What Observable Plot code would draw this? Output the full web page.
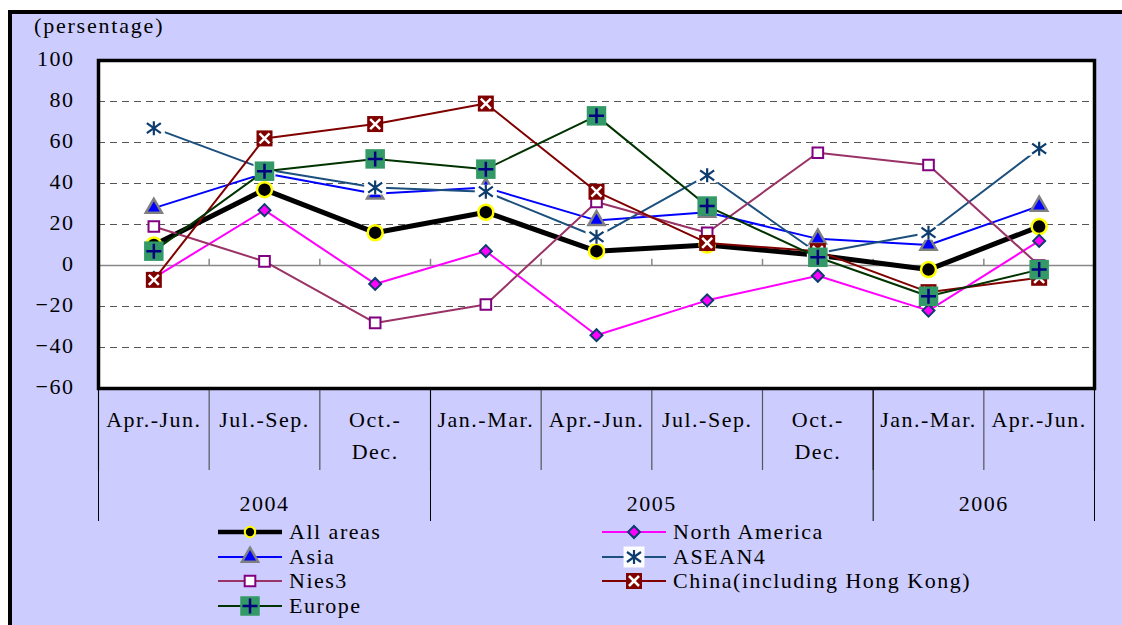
<!DOCTYPE html>
<html><head><meta charset="utf-8">
<script src="https://cdn.jsdelivr.net/npm/d3@7"></script>
<script src="https://cdn.jsdelivr.net/npm/@observablehq/plot@0.6"></script>
<style>
html,body{margin:0;padding:0;background:#fff;width:1122px;height:625px;overflow:hidden;font-family:'Liberation Serif',serif;}
#bg{position:absolute;left:8px;top:10px;right:0;bottom:0;background:#CCCCFF;border-left:4px solid #000;border-top:4px solid #000;}
#chart{position:absolute;left:0;top:0;}
#chart svg, #chart svg text{font-family:'Liberation Serif',serif !important;letter-spacing:1.5px;}
#ytitle{position:absolute;left:34px;top:15px;font-family:'Liberation Serif',serif;font-size:22px;line-height:22px;letter-spacing:1.8px;color:#000;}
.leg{position:absolute;display:flex;align-items:center;font-family:'Liberation Serif',serif;font-size:22px;line-height:24px;height:24px;letter-spacing:1.5px;color:#000;white-space:nowrap;}
.leg svg{display:block;margin-right:7px;}
</style></head><body>
<div id="bg"></div>
<div id="chart"></div>
<div id="ytitle">(persentage)</div>
<div id="legend"></div>
<script>
// ---- data ----
const categories = ["Apr.-Jun.","Jul.-Sep.","Oct.-\nDec.","Jan.-Mar.","Apr.-Jun.","Jul.-Sep.","Oct.-\nDec.","Jan.-Mar.","Apr.-Jun."];
const years = ["2004","2005","2006"];
const yearSpans = [[0,2],[3,6],[7,8]];
const seriesNames = ["All areas","North America","Asia","ASEAN4","Nies3","China(including Hong Kong)","Europe"];
const allAreas     = [10, 37, 16, 26,   7,  10,  5,  -2, 19];
const northAmerica = [-6, 27, -9,  7, -34, -17, -5, -22, 12];
const asia         = [28, 45, 35, 38,  22,  26, 13,  10, 29];
const asean4       = [67, 47, 38, 36,  14,  44,  6,  16, 57];
const nies3        = [19,  2, -28, -19, 31, 16, 55,  49,  0];
const china        = [-7, 62, 69, 79,  36,  11,  7, -13, -6];
const europe       = [ 7, 46, 52, 47,  73,  29,  4, -15, -2];
const seriesValues = [allAreas, northAmerica, asia, asean4, nies3, china, europe];
const yTicks = [-60,-40,-20,0,20,40,60,80,100];
const gridValues = [-40,-20,20,40,60,80];

// ---- styles ----
const FONT = "'Liberation Serif', serif";
const asteriskSym = {draw(ctx, size){const k=Math.sqrt(size)/14;
  ctx.moveTo(0,-7*k);ctx.lineTo(0,7*k);
  ctx.moveTo(-7*k,-5*k);ctx.lineTo(7*k,5*k);
  ctx.moveTo(-7*k,5*k);ctx.lineTo(7*k,-5*k);}};
const haloSym = {draw(ctx, size){const k=Math.sqrt(size)/22; ctx.rect(-11*k,-7*k,22*k,14*k);}};
const haloLegendSym = {draw(ctx, size){const s=Math.sqrt(size); ctx.rect(-s/2,-s/2,s,s);}};
const styles = [
  {color:"#000000", width:5, legendWidth:4.5, markers:[{symbol:"circle", r:7.5, fill:"#000", stroke:"#FFFF00", sw:2.5}], legendMarkers:[{symbol:"circle", r:5.2, fill:"#000", stroke:"#FFFF00", sw:2}]},
  {color:"#FF00FF", width:2, markers:[{symbol:"diamond2", r:5.4, fill:"#FF00FF", stroke:"#0D3C6E", sw:2}]},
  {color:"#0000FF", width:2, markers:[{symbol:"triangle", r:6, fill:"#0000FF", stroke:"#808080", sw:2.5}]},
  {color:"#1B4F7E", width:2, markers:[{symbol:haloSym, r:12.41, fill:"#fff", stroke:"none", sw:0},{symbol:asteriskSym, r:7.9, fill:"none", stroke:"#0D3C6E", sw:2.2}],
     legendMarkers:[{symbol:haloLegendSym, r:11.8, fill:"#fff", stroke:"none", sw:0},{symbol:asteriskSym, r:7.9, fill:"none", stroke:"#0D3C6E", sw:2.2}]},
  {color:"#993366", width:2, markers:[{symbol:"square", r:6, fill:"#fff", stroke:"#800080", sw:2}]},
  {color:"#800000", width:2, markers:[{symbol:"square", r:9.03, fill:"#800000", stroke:"none", sw:0},{symbol:"times", r:4.62, fill:"none", stroke:"#fff", sw:2.5}]},
  {color:"#003300", width:2, markers:[{symbol:"square", r:11, fill:"#339966", stroke:"none", sw:0},{symbol:"plus", r:4.9, fill:"none", stroke:"#000080", sw:2.5}]}
];

// ---- derived ----
const rows = seriesNames.flatMap((name, s) => seriesValues[s].map((v, i) => ({series: name, s, i, v})));
const catIdx = d3.range(categories.length);
const bounds = d3.range(categories.length + 1).map(k => k - 0.5);
const innerBounds = bounds.slice(1, -1);
const yearBounds = [yearSpans[0][0] - 0.5, ...yearSpans.map(sp => sp[1] + 0.5)];
const yearCenters = yearSpans.map(sp => (sp[0] + sp[1]) / 2);

const marks = [
  Plot.frame({fill: "white"}),
  Plot.ruleY(gridValues, {stroke: "#555", strokeWidth: 1, strokeDasharray: "7,5"}),
  Plot.ruleY([0], {stroke: "#888", strokeWidth: 1.6}),
  Plot.ruleX(innerBounds, {x: d => d, y1: 0, y2: 3, stroke: "#888", strokeWidth: 1.5}),
  Plot.axisY(yTicks, {tickSize: 0, tickPadding: 24, fontSize: 22, dy: -2, fontFamily: FONT, label: null}),
  Plot.axisX(catIdx, {tickSize: 0, tickPadding: 16, fontSize: 22, fontFamily: FONT, lineHeight: 1.45, tickFormat: i => categories[i], label: null}),
  Plot.axisX(bounds, {tickSize: 82, tickFormat: () => "", stroke: "#555", strokeWidth: 1.2, label: null}),
  Plot.axisX(yearBounds, {tickSize: 133, tickFormat: () => "", stroke: "#000", strokeWidth: 1, label: null}),
  Plot.axisX(yearCenters, {tickSize: 0, tickPadding: 107, fontSize: 22, fontFamily: FONT, tickFormat: d => years[yearCenters.indexOf(d)], label: null})
];
seriesNames.forEach((name, s) => {
  const data = rows.filter(r => r.s === s);
  const st = styles[s];
  marks.push(Plot.line(data, {x: "i", y: "v", stroke: st.color, strokeWidth: st.width, strokeLinejoin: "round"}));
  st.markers.forEach(m => marks.push(Plot.dot(data, {x: "i", y: "v", symbol: m.symbol, r: m.r, fill: m.fill, stroke: m.stroke, strokeWidth: m.sw})));
});
marks.push(Plot.frame({stroke: "#000", strokeWidth: 3.5}));

const chart = Plot.plot({
  width: 1122, height: 525,
  marginLeft: 98, marginRight: 28, marginTop: 60, marginBottom: 137,
  x: {type: "linear", domain: [-0.5, categories.length - 0.5], label: null},
  y: {domain: [-60, 100], label: null},
  style: {background: "transparent", fontFamily: FONT, fontSize: "22px", color: "#000"},
  marks
});
document.getElementById("chart").appendChild(chart);

// ---- legend ----
const symMap = {circle: d3.symbolCircle, diamond2: d3.symbolDiamond2, triangle: d3.symbolTriangle, square: d3.symbolSquare, times: d3.symbolTimes, plus: d3.symbolPlus};
function swatch(st){
  const w = 64, h = 24;
  let out = `<svg width="${w}" height="${h}"><line x1="0" x2="${w}" y1="12" y2="12" stroke="${st.color}" stroke-width="${st.legendWidth || st.width}"/>`;
  (st.legendMarkers || st.markers).forEach(m => {
    const type = typeof m.symbol === "string" ? symMap[m.symbol] : m.symbol;
    const d = d3.symbol(type, Math.PI * m.r * m.r)();
    out += `<path transform="translate(32,12)" d="${d}" fill="${m.fill}" stroke="${m.stroke}" stroke-width="${m.sw}"/>`;
  });
  return out + "</svg>";
}
const legendCols = [218, 602];
const legendRows = [520, 545, 569, 594];
const legend = document.getElementById("legend");
seriesNames.forEach((name, s) => {
  const div = document.createElement("div");
  div.className = "leg";
  div.style.left = legendCols[s % 2] + "px";
  div.style.top = legendRows[Math.floor(s / 2)] + "px";
  div.innerHTML = swatch(styles[s]) + `<span>${name}</span>`;
  legend.appendChild(div);
});
</script>
</body></html>
